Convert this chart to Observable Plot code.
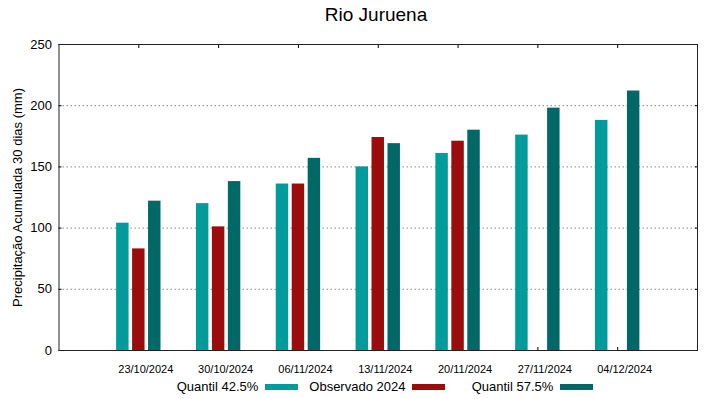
<!DOCTYPE html>
<html><head><meta charset="utf-8">
<script src="https://cdn.jsdelivr.net/npm/d3@7"></script>
<script src="https://cdn.jsdelivr.net/npm/@observablehq/plot@0.6"></script>
<style>
body{margin:0;background:#fff;font-family:"Liberation Sans",Arial,sans-serif;}
#wrap{position:relative;width:719px;height:399px;overflow:hidden;background:#fff;}
#title{position:absolute;left:376px;top:5px;transform:translateX(-50%);font-size:19px;line-height:19px;white-space:nowrap;color:#000}
#chart{position:absolute;left:0;top:30px;}
.leg{position:absolute;top:380px;display:flex;align-items:center;font-size:13px;line-height:13px;white-space:nowrap;color:#000}
.sw{display:inline-block;width:33px;height:6px;margin-left:7px}
</style></head><body>
<div id="wrap"><div id="title">Rio Juruena</div><div id="chart"></div><div id="legend"></div></div>
<script>
const dates = ["23/10/2024","30/10/2024","06/11/2024","13/11/2024","20/11/2024","27/11/2024","04/12/2024"];
const quantil425 = [104, 120, 136, 150, 161, 176, 188];
const observado2024 = [83, 101, 136, 174, 171, null, null];
const quantil575 = [122, 138, 157, 169, 180, 198, 212];
const seriesNames = ["Quantil 42.5%", "Observado 2024", "Quantil 57.5%"];
const seriesColors = ["#009b9b", "#9b0c0c", "#006866"];
const yTicks = [0, 50, 100, 150, 200, 250];
const gridTicks = [50, 100, 150, 200];

const seriesValues = [quantil425, observado2024, quantil575];
const data = [];
seriesValues.forEach((vals, s) => vals.forEach((v, i) => {
  if (v != null) data.push({i, s, series: seriesNames[s], value: v});
}));
const idx = dates.map((d, i) => i);
const step = 0.2, half = 0.078;

const chart = Plot.plot({
  width: 719, height: 350,
  marginLeft: 58.5, marginRight: 22, marginTop: 14, marginBottom: 30,
  style: {fontFamily: '"Liberation Sans", Arial, sans-serif', fontSize: "13px", color: "#000", background: "#fff"},
  x: {domain: [-1, 7]},
  y: {domain: [0, 250]},
  color: {domain: seriesNames, range: seriesColors},
  marks: [
    Plot.gridY(gridTicks, {stroke: "#8a8a8a", strokeOpacity: 1, strokeDasharray: "1.5,2.5"}),
    Plot.axisY({ticks: yTicks, tickSize: 0, tickPadding: 7, label: "Precipitação Acumulada 30 dias (mm)", labelAnchor: "center", labelOffset: 46, labelArrow: "none"}),
    Plot.axisY({ticks: yTicks, tickSize: -3, tickFormat: () => "", label: null}),
    Plot.axisY({anchor: "right", ticks: yTicks, tickSize: -3, tickFormat: () => "", label: null}),
    Plot.axisX({ticks: idx, tickSize: 0, tickPadding: 14.5, dx: 7, fontSize: 11, tickFormat: i => dates[i], label: null}),
    Plot.axisX({ticks: idx, tickSize: -3, tickFormat: () => "", label: null}),
    Plot.axisX({anchor: "top", ticks: idx, tickSize: -3, tickFormat: () => "", label: null}),
    Plot.rectY(data, {
      x1: d => d.i + (d.s - 1) * step - half,
      x2: d => d.i + (d.s - 1) * step + half,
      y: "value", fill: "series"
    }),
    Plot.frame({stroke: "#222"})
  ]
});
document.getElementById("chart").appendChild(chart);

const legendLefts = [176.7, 309.3, 471.7];
const legend = document.getElementById("legend");
seriesNames.forEach((name, k) => {
  const item = document.createElement("div");
  item.className = "leg";
  item.style.left = legendLefts[k] + "px";
  const t = document.createElement("span");
  t.textContent = name;
  const sw = document.createElement("span");
  sw.className = "sw";
  sw.style.background = seriesColors[k];
  item.appendChild(t); item.appendChild(sw);
  legend.appendChild(item);
});
</script>
</body></html>
